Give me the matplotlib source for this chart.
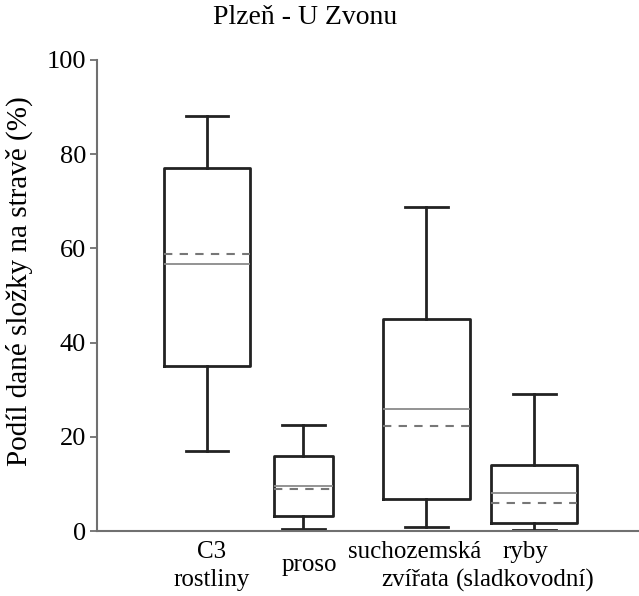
import matplotlib
matplotlib.use('Agg')
from matplotlib import pyplot as plt

plt.rcParams['font.family'] = ['Liberation Serif', 'DejaVu Serif']

# data (percent of diet)
categories = ['C3\nrostliny', 'proso', 'suchozemská\nzvířata', 'ryby\n(sladkovodní)']
whisker_low = [17.0, 0.5, 0.9, 0.3]
q1 = [35.0, 3.2, 6.9, 1.8]
medians = [56.7, 9.5, 25.8, 8.0]
means = [58.8, 9.0, 22.3, 5.9]
q3 = [77.0, 15.9, 45.1, 14.0]
whisker_high = [88.2, 22.5, 68.7, 29.0]

positions = [1.0, 1.9, 3.05, 4.06]
widths = [0.80, 0.55, 0.81, 0.80]
label_x = [1.04, 1.96, 2.945, 3.98]

stats = []
for i in range(len(categories)):
    stats.append({'whislo': whisker_low[i], 'q1': q1[i], 'med': medians[i],
                  'mean': means[i], 'q3': q3[i], 'whishi': whisker_high[i],
                  'fliers': []})

fig = plt.figure(figsize=(6.39, 5.96), dpi=100)
ax = fig.add_axes([97 / 639, 65 / 596, 542 / 639, 471 / 596])

box_color = '#222222'
ax.bxp(stats, positions=positions, widths=widths, capwidths=[0.40] * 4,
       showmeans=True, meanline=True, showfliers=False, manage_ticks=False,
       boxprops=dict(color=box_color, linewidth=2.0),
       whiskerprops=dict(color=box_color, linewidth=2.0),
       capprops=dict(color=box_color, linewidth=2.0),
       medianprops=dict(color='#8a8a8a', linewidth=1.3),
       meanprops=dict(color='#777777', linewidth=1.5, linestyle=(0, (4, 3.5))))

ax.set_xlim(-0.03, 5.04)
ax.set_ylim(0, 100)
ax.set_yticks([0, 20, 40, 60, 80, 100])
ax.set_xticks([])
ax.tick_params(axis='y', labelsize=19, length=5, width=1.3, color='#707070', pad=3)

for s in ['top', 'right']:
    ax.spines[s].set_visible(False)
for s in ['left', 'bottom']:
    ax.spines[s].set_color('#707070')
    ax.spines[s].set_linewidth(1.5)

ax.set_ylabel('Podíl dané složky na stravě (%)', fontsize=21)
ax.yaxis.set_label_coords(-0.118, 0.53)

# category labels under the axis, one text per line
for x, lab in zip(label_x, categories):
    lines = lab.split('\n')
    if len(lines) == 1:
        ys = [-0.072]
    else:
        ys = [-0.044, -0.105]
    for y, line in zip(ys, lines):
        ax.text(x, y, line, transform=ax.get_xaxis_transform(),
                ha='center', va='center', fontsize=18)

fig.text(305 / 639, 1 - 17 / 596, 'Plzeň - U Zvonu', ha='center', va='center', fontsize=20)

plt.savefig('out.png', dpi=100)
plt.close()
